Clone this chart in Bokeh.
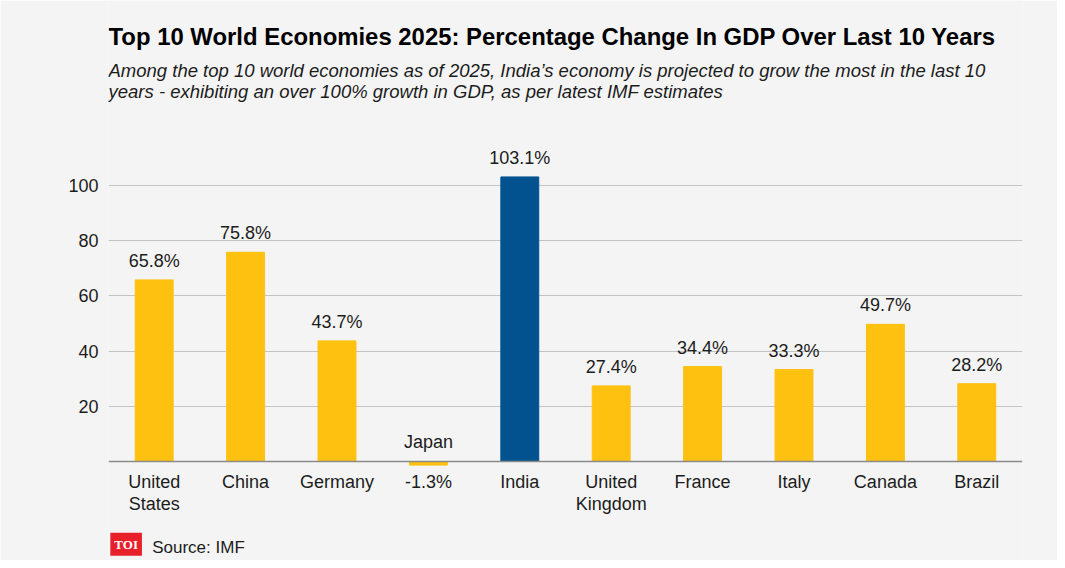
from bokeh.plotting import figure
from bokeh.models import ColumnDataSource, FixedTicker, Span, Label, Range1d, FactorRange
from bokeh.core.properties import value
from bokeh.embed import file_html
from bokeh.resources import INLINE

countries = ["United\nStates", "China", "Germany", "Japan", "India",
             "United\nKingdom", "France", "Italy", "Canada", "Brazil"]
growth = [65.8, 75.8, 43.7, -1.3, 103.1, 27.4, 34.4, 33.3, 49.7, 28.2]
highlight = "India"
y_ticks = [20, 40, 60, 80, 100]

title_text = "Top 10 World Economies 2025: Percentage Change In GDP Over Last 10 Years"
subtitle_lines = [
    "Among the top 10 world economies as of 2025, India\u2019s economy is projected to grow the most in the last 10",
    "years - exhibiting an over 100% growth in GDP, as per latest IMF estimates",
]
source_text = "Source: IMF"

YELLOW = "#FFC110"
BLUE = "#02528F"
FONT = "Liberation Sans"
TXT = "#1c1c1c"

factors = [f"c{i}" for i in range(len(countries))]
pct = [f"{v}%" for v in growth]
top_text = [pct[i] if v >= 0 else countries[i] for i, v in enumerate(growth)]
bottom_text = [countries[i] if v >= 0 else pct[i] for i, v in enumerate(growth)]
top_y = [max(v, 0) for v in growth]
colors = [BLUE if c == highlight else YELLOW for c in countries]

src = ColumnDataSource(dict(x=factors, top=growth, color=colors,
                            top_text=top_text, top_y=top_y,
                            bottom_text=bottom_text, zero=[0] * len(growth)))

W, H = 1057, 560
p = figure(width=W, height=H, x_range=FactorRange(*factors),
           y_range=Range1d(-35.87, 167.03),
           output_backend="svg", toolbar_location=None, title=None,
           min_border_left=108, min_border_right=35,
           min_border_top=0, min_border_bottom=0)
p.background_fill_color = "#f4f4f4"
p.border_fill_color = "#f4f4f4"
p.outline_line_color = None

p.vbar(x="x", top="top", bottom=0, width=0.415, color="color", source=src)

p.xaxis.visible = False
p.xgrid.visible = False
p.yaxis.ticker = FixedTicker(ticks=y_ticks)
p.yaxis.axis_line_color = None
p.yaxis.major_tick_line_color = None
p.yaxis.minor_tick_line_color = None
p.yaxis.major_tick_out = 0
p.yaxis.major_tick_in = 0
p.yaxis.major_label_standoff = 10
p.yaxis.major_label_text_font = FONT
p.yaxis.major_label_text_font_size = "18px"
p.yaxis.major_label_text_color = TXT
p.ygrid.grid_line_color = "#c4c4c4"
p.ygrid.grid_line_width = 1.2

p.add_layout(Span(location=0, dimension="width", line_color="#8a8a8a", line_width=1.5))

p.text(x="x", y="top_y", text="top_text", source=src, text_align="center",
       text_baseline="alphabetic", y_offset=-19, text_font=value(FONT),
       text_font_size="18px", text_color=TXT)
p.text(x="x", y="zero", text="bottom_text", source=src, text_align="center",
       text_baseline="top", y_offset=11, text_font=value(FONT),
       text_font_size="18px", text_color=TXT, text_line_height=1.1)

p.add_layout(Label(x=0, y=153.9, text=title_text, text_font=FONT,
                   text_font_size="23.9px", text_font_style="bold",
                   text_color="#000000", text_baseline="alphabetic"))
p.add_layout(Label(x=0, y=141.7, text=subtitle_lines[0], text_font=FONT,
                   text_font_size="18.5px", text_font_style="italic",
                   text_color=TXT, text_baseline="alphabetic"))
p.add_layout(Label(x=0, y=134.1, text=subtitle_lines[1], text_font=FONT,
                   text_font_size="18.5px", text_font_style="italic",
                   text_color=TXT, text_baseline="alphabetic"))
p.add_layout(Label(x=0.02, y=-30.0, text="TOI", text_font="Liberation Serif",
                   text_font_size="13px", text_font_style="bold",
                   text_color="white", text_baseline="middle",
                   background_fill_color="#E8202A", padding=4))
p.add_layout(Label(x=0.478, y=-31.1, text=source_text, text_font=FONT,
                   text_font_size="17px", text_color=TXT,
                   text_baseline="alphabetic"))

open("out.html", "w").write(file_html(p, INLINE))
